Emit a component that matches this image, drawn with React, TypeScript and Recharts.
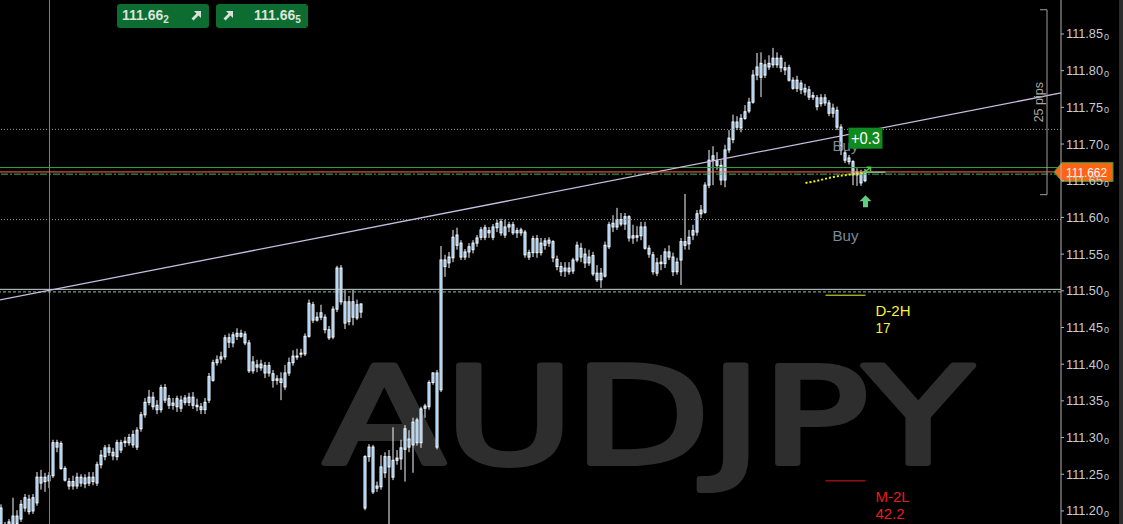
import React from 'react';
import { ComposedChart, Bar, Line, XAxis, YAxis, ReferenceLine, ReferenceDot } from 'recharts';

// ---- candle values (AUDJPY, price) ----
const openValues = [
111.204,111.181,111.171,111.182,111.193,111.189,111.204,111.216,111.200,111.211,
111.246,111.240,111.241,111.248,111.293,111.292,111.258,111.240,111.234,111.234,
111.246,111.237,111.238,111.246,111.238,111.263,111.274,111.286,111.280,111.274,
111.293,111.293,111.293,111.290,111.287,111.312,111.331,111.348,111.355,111.344,
111.338,111.368,111.353,111.344,111.342,111.351,111.348,111.348,111.355,111.344,
111.342,111.338,111.351,111.378,111.402,111.407,111.410,111.436,111.429,111.438,
111.442,111.441,111.429,111.391,111.399,111.395,111.398,111.388,111.387,111.378,
111.380,111.369,111.388,111.402,111.411,111.414,111.414,111.438,111.481,111.460,
111.464,111.464,111.447,111.437,111.475,111.531,111.485,111.458,111.485,111.463,
111.471,111.204,111.274,111.287,111.231,111.233,111.252,111.274,111.246,111.269,
111.271,111.284,111.298,111.290,111.324,111.293,111.340,111.342,111.375,111.388,
111.365,111.542,111.538,111.545,111.562,111.565,111.546,111.553,111.556,111.565,
111.573,111.586,111.579,111.573,111.586,111.594,111.576,111.587,111.590,111.579,
111.583,111.580,111.552,111.552,111.571,111.552,111.562,111.565,111.567,111.543,
111.533,111.527,111.531,111.527,111.542,111.558,111.550,111.538,111.548,111.524,
111.515,111.520,111.560,111.587,111.597,111.591,111.591,111.601,111.572,111.575,
111.575,111.587,111.558,111.549,111.524,111.537,111.537,111.553,111.546,111.526,
111.542,111.567,111.564,111.576,111.580,111.605,111.607,111.644,111.678,111.677,
111.671,111.651,111.692,111.706,111.730,111.722,111.735,111.745,111.757,111.794,
111.810,111.794,111.805,111.808,111.808,111.817,111.804,111.804,111.787,111.776,
111.783,111.776,111.774,111.764,111.763,111.755,111.763,111.756,111.742,111.746,
111.723,111.688,111.681,111.676,111.658,111.661,111.650
];
const highValues = [
111.209,111.185,111.189,111.218,111.201,111.215,111.223,111.222,111.223,111.253,
111.256,111.252,111.253,111.297,111.297,111.295,111.261,111.245,111.248,111.252,
111.250,111.250,111.253,111.253,111.267,111.283,111.290,111.291,111.286,111.297,
111.297,111.301,111.305,111.310,111.314,111.335,111.354,111.365,111.362,111.351,
111.372,111.373,111.358,111.354,111.357,111.357,111.358,111.361,111.362,111.353,
111.347,111.354,111.388,111.406,111.412,111.417,111.440,111.442,111.444,111.449,
111.447,111.445,111.433,111.411,111.406,111.406,111.403,111.403,111.392,111.385,
111.389,111.399,111.409,111.419,111.421,111.421,111.442,111.488,111.485,111.471,
111.481,111.468,111.452,111.479,111.534,111.535,111.501,111.493,111.501,111.488,
111.483,111.276,111.291,111.290,111.240,111.276,111.280,111.283,111.314,111.283,
111.297,111.317,111.310,111.327,111.327,111.342,111.346,111.378,111.389,111.392,
111.561,111.549,111.553,111.583,111.586,111.569,111.557,111.565,111.569,111.576,
111.587,111.590,111.587,111.591,111.597,111.598,111.597,111.594,111.594,111.586,
111.586,111.583,111.556,111.575,111.576,111.572,111.572,111.573,111.569,111.548,
111.539,111.539,111.539,111.545,111.567,111.565,111.558,111.556,111.553,111.535,
111.531,111.567,111.594,111.603,111.613,111.606,111.606,111.603,111.590,111.588,
111.594,111.594,111.562,111.553,111.545,111.549,111.558,111.562,111.552,111.545,
111.572,111.632,111.583,111.590,111.610,111.617,111.648,111.692,111.697,111.689,
111.678,111.699,111.719,111.740,111.738,111.741,111.753,111.763,111.801,111.824,
111.825,111.815,111.821,111.831,111.825,111.821,111.812,111.808,111.791,111.793,
111.787,111.782,111.779,111.771,111.767,111.768,111.768,111.760,111.755,111.751,
111.727,111.692,111.685,111.678,111.667,111.665,111.666
];
const lowValues = [
111.174,111.160,111.166,111.177,111.180,111.185,111.199,111.195,111.196,111.207,
111.229,111.226,111.231,111.245,111.280,111.256,111.240,111.229,111.229,111.230,
111.233,111.231,111.234,111.235,111.234,111.258,111.269,111.275,111.269,111.269,
111.279,111.287,111.289,111.286,111.283,111.308,111.327,111.344,111.338,111.332,
111.334,111.347,111.339,111.338,111.335,111.335,111.344,111.343,111.339,111.336,
111.332,111.332,111.347,111.376,111.398,111.401,111.406,111.422,111.423,111.433,
111.436,111.426,111.388,111.387,111.389,111.391,111.381,111.383,111.368,111.372,
111.351,111.365,111.384,111.398,111.406,111.409,111.411,111.436,111.456,111.458,
111.460,111.442,111.433,111.434,111.471,111.481,111.448,111.453,111.453,111.460,
111.463,111.201,111.267,111.223,111.226,111.229,111.245,111.182,111.242,111.263,
111.256,111.240,111.280,111.252,111.289,111.286,111.327,111.338,111.372,111.284,
111.362,111.519,111.531,111.539,111.556,111.542,111.542,111.545,111.551,111.560,
111.569,111.569,111.572,111.569,111.580,111.575,111.572,111.580,111.576,111.572,
111.575,111.545,111.542,111.546,111.545,111.548,111.556,111.560,111.539,111.528,
111.520,111.519,111.522,111.523,111.539,111.539,111.531,111.534,111.520,111.512,
111.504,111.518,111.557,111.580,111.583,111.588,111.583,111.567,111.564,111.567,
111.569,111.556,111.545,111.522,111.520,111.528,111.531,111.542,111.520,111.522,
111.508,111.556,111.556,111.569,111.575,111.599,111.605,111.640,111.644,111.665,
111.644,111.641,111.688,111.701,111.719,111.716,111.733,111.742,111.755,111.787,
111.764,111.790,111.801,111.804,111.804,111.798,111.794,111.785,111.774,111.771,
111.768,111.766,111.760,111.760,111.746,111.751,111.752,111.738,111.736,111.719,
111.685,111.674,111.672,111.644,111.643,111.643,111.648
];
const closeValues = [
111.182,111.167,111.185,111.193,111.183,111.209,111.218,111.199,111.218,111.246,
111.238,111.246,111.248,111.293,111.287,111.258,111.242,111.234,111.240,111.246,
111.238,111.245,111.246,111.240,111.263,111.276,111.286,111.280,111.275,111.293,
111.283,111.295,111.300,111.304,111.310,111.331,111.348,111.355,111.342,111.338,
111.368,111.351,111.344,111.347,111.353,111.340,111.354,111.355,111.344,111.342,
111.338,111.348,111.383,111.402,111.406,111.410,111.436,111.430,111.440,111.442,
111.438,111.429,111.391,111.403,111.396,111.400,111.388,111.398,111.378,111.380,
111.375,111.388,111.402,111.411,111.410,111.415,111.438,111.483,111.460,111.464,
111.470,111.447,111.436,111.475,111.531,111.485,111.456,111.485,111.464,111.481,
111.482,111.274,111.287,111.226,111.234,111.260,111.274,111.260,111.269,111.272,
111.286,111.312,111.287,111.321,111.293,111.339,111.343,111.375,111.388,111.287,
111.542,111.533,111.546,111.573,111.576,111.546,111.553,111.560,111.565,111.572,
111.583,111.573,111.582,111.587,111.592,111.579,111.587,111.590,111.579,111.582,
111.579,111.549,111.546,111.571,111.552,111.565,111.568,111.569,111.545,111.533,
111.526,111.531,111.526,111.542,111.562,111.546,111.538,111.546,111.523,111.515,
111.524,111.562,111.590,111.592,111.587,111.597,111.601,111.572,111.575,111.573,
111.587,111.558,111.550,111.526,111.538,111.539,111.553,111.546,111.526,111.539,
111.567,111.562,111.573,111.582,111.605,111.610,111.644,111.678,111.684,111.671,
111.651,111.692,111.708,111.730,111.723,111.735,111.744,111.757,111.794,111.805,
111.791,111.808,111.810,111.817,111.817,111.804,111.801,111.787,111.776,111.787,
111.774,111.771,111.764,111.766,111.751,111.763,111.756,111.742,111.749,111.723,
111.692,111.678,111.676,111.658,111.662,111.647,111.662
];

// yellow dotted average near the last bars
const maIndex = [201, 204, 207, 210, 213, 216];
const maValues = [111.647, 111.650, 111.654, 111.657, 111.659, 111.661];

const yTicks = [111.2, 111.25, 111.3, 111.35, 111.4, 111.45, 111.5, 111.55, 111.6, 111.65, 111.7, 111.75, 111.8, 111.85];
const priceDomain = [111.1822, 111.8963];
const indexDomain = [-0.375, 264.875];

// horizontal levels
const bidPrice = 111.662;
const askLine = 111.668;
const entryLine = 111.659;
const dotLevels = [111.72, 111.597];
const roundLevel = 111.502;
const roundLevelDash = 111.4985;
const sessionMarkIndex = 12;
const trendStart = 111.4875;
const trendEnd = 111.7696;
const d2hLevel = 111.494;
const m2lLevel = 111.241;
const levelFrom = 206;
const levelTo = 216;
const pipsTop = 111.883;
const pipsBottom = 111.631;
const pipsIndex = 261.375;
const pipsTickFrom = 259.625;

const buyMarks = [{ i: 211, p: 111.697 }, { i: 211, p: 111.575 }];
const profitMark = { i: 216, p: 111.708, text: '+0.3' };
const arrowMark = { i: 216, p: 111.622 };
const fillMark = { i: 216, p: 111.663 };

const rows: any[] = openValues.map((o, i) => ({
  i,
  open: o,
  high: highValues[i],
  low: lowValues[i],
  close: closeValues[i],
  range: [lowValues[i], highValues[i]],
  ma: null as number | null,
}));
maIndex.forEach((k, j) => { rows[k].ma = maValues[j]; });

const FONT = "'Liberation Sans', Arial, sans-serif";

const Candle = (props: any) => {
  const { x, y, width, height, payload } = props;
  if (x == null || y == null || !payload) return null;
  const top = Math.min(y, y + height);
  const h = Math.abs(height);
  const { open, close, high, low } = payload;
  const span = high - low || 1;
  const py = (v: number) => top + ((high - v) / span) * h;
  const cx = x + width / 2;
  const bTop = py(Math.max(open, close));
  const bBot = py(Math.min(open, close));
  return (
    <g>
      <line x1={cx} x2={cx} y1={top} y2={top + h} stroke="#f4f8ff" strokeWidth={1} />
      <rect x={cx - 1} y={bTop} width={2} height={Math.max(bBot - bTop, 1)} fill="#6aaef0" stroke="#ffffff" strokeWidth={1} />
    </g>
  );
};

const PriceTick = (props: any) => {
  const { x, y, payload } = props;
  const s = Number(payload.value).toFixed(2);
  return (
    <g>
      <text x={x} y={y + 4.5} fill="#c6ccd4" fontSize={13} fontFamily={FONT} textLength={37} lengthAdjust="spacingAndGlyphs">{s}</text>
      <text x={x + 38} y={y + 6} fill="#c6ccd4" fontSize={9} fontFamily={FONT}>0</text>
    </g>
  );
};

const priceTag = (p: any) => {
  const vb = p.viewBox || {};
  const R = (vb.x || 0) + (vb.width || 0);
  const cy = vb.y || 0;
  return (
    <g>
      <polygon points={`${R - 7},${cy} ${R + 1},${cy - 9.5} ${R + 52},${cy - 9.5} ${R + 52},${cy + 9.5} ${R + 1},${cy + 9.5}`} fill="#ff6414" stroke="#2f9a3f" strokeWidth={1} />
      <text x={R + 5} y={cy + 5} fill="#ffffff" fontSize={13.5} fontFamily={FONT} textLength={41} lengthAdjust="spacingAndGlyphs">{bidPrice.toFixed(3)}</text>
    </g>
  );
};

const levelLabel = (title: string, value: string, color: string, tl: number, vl: number) => (p: any) => {
  const vb = p.viewBox || {};
  const x = (vb.x || 0) + (vb.width || 0) + 10;
  const y = vb.y || 0;
  return (
    <g>
      <text x={x} y={y + 21} fill={color} fontSize={15} fontFamily={FONT} textLength={tl} lengthAdjust="spacingAndGlyphs">{title}</text>
      <text x={x} y={y + 38} fill={color} fontSize={15} fontFamily={FONT} textLength={vl} lengthAdjust="spacingAndGlyphs">{value}</text>
    </g>
  );
};

const pipsLabel = (p: any) => {
  const vb = p.viewBox || {};
  const x = (vb.x || 0) - 4;
  const cy = (vb.y || 0) + (vb.height || 0) / 2;
  return (
    <text x={x} y={cy} transform={`rotate(-90 ${x} ${cy})`} textAnchor="middle" fill="#a8a8a8" fontSize={12.5} fontFamily={FONT}>25 pips</text>
  );
};

const Arrow = () => (
  <svg width={11} height={11} viewBox="0 0 11 11" style={{ display: 'block' }}>
    <path d="M3 1 H10 V8 L7.5 5.5 L2.5 10.5 L0.5 8.5 L5.5 3.5 Z" fill="#d8e0d8" />
  </svg>
);

export default function App() {
  const btn: React.CSSProperties = {
    position: 'absolute', top: 4, width: 92, height: 24, background: '#0d6c30', borderRadius: 3,
    color: '#dbe3db', fontFamily: FONT, fontWeight: 'bold', fontSize: 14, boxSizing: 'border-box',
  };
  return (
    <div style={{ position: 'absolute', left: 0, top: 0, width: 1123, height: 524, background: '#000', overflow: 'hidden' }}>
      <svg width={1123} height={524} style={{ position: 'absolute', left: 0, top: 0 }}>
        <text x={324} y={463} fill="#2e2e2e" stroke="#2e2e2e" strokeWidth={6} strokeLinejoin="round" fontSize={134} fontFamily="'DejaVu Sans', sans-serif" textLength={648} lengthAdjust="spacingAndGlyphs">AUDJPY</text>
      </svg>
      <div style={{ position: 'absolute', left: 0, top: 0 }}>
        <ComposedChart width={1123} height={524} data={rows} margin={{ top: 0, right: 0, bottom: 0, left: 0 }}>
          <XAxis dataKey="i" type="number" domain={indexDomain} allowDataOverflow hide />
          <YAxis
            orientation="right"
            type="number"
            width={62}
            domain={priceDomain}
            allowDataOverflow
            ticks={yTicks}
            interval={0}
            tick={<PriceTick />}
            tickSize={3}
            tickMargin={2}
            axisLine={{ stroke: '#b4b4b4' }}
            tickLine={{ stroke: '#b4b4b4' }}
          />
          <ReferenceLine x={sessionMarkIndex} stroke="#7c7c7c" />
          {dotLevels.map((v) => (
            <ReferenceLine key={v} y={v} stroke="#9a9a9a" strokeDasharray="1 2" />
          ))}
          <ReferenceLine y={roundLevel} stroke="#cfd6de" />
          <ReferenceLine y={roundLevelDash} stroke="#8fc0a0" strokeDasharray="3 2" />
          <ReferenceLine y={askLine} stroke="#33a040" />
          <ReferenceLine y={entryLine} stroke="#3cb371" strokeDasharray="7 2 2 2" />
          <ReferenceLine
            segment={[{ x: indexDomain[0], y: trendStart }, { x: indexDomain[1], y: trendEnd }]}
            stroke="#cbbbe0"
            strokeWidth={1.3}
          />
          <ReferenceLine
            segment={[{ x: levelFrom, y: d2hLevel }, { x: levelTo, y: d2hLevel }]}
            stroke="#f0f030"
            label={levelLabel('D-2H', '17', '#f6f63c', 35, 15)}
          />
          <ReferenceLine
            segment={[{ x: levelFrom, y: m2lLevel }, { x: levelTo, y: m2lLevel }]}
            stroke="#e01818"
            label={levelLabel('M-2L', '42.2', '#e81c1c', 34, 29)}
          />
          <ReferenceLine
            segment={[{ x: pipsIndex, y: pipsTop }, { x: pipsIndex, y: pipsBottom }]}
            stroke="#a0a0a0"
            label={pipsLabel}
          />
          <ReferenceLine segment={[{ x: pipsTickFrom, y: pipsTop }, { x: pipsIndex, y: pipsTop }]} stroke="#a0a0a0" />
          <ReferenceLine segment={[{ x: pipsTickFrom, y: pipsBottom }, { x: pipsIndex, y: pipsBottom }]} stroke="#a0a0a0" />
          <Bar dataKey="range" barSize={3} shape={<Candle />} isAnimationActive={false} />
          <Line dataKey="ma" type="monotone" stroke="#f4f400" strokeWidth={2} strokeDasharray="2 2" dot={false} connectNulls isAnimationActive={false} />
          <ReferenceLine y={bidPrice} stroke="#ff6a4a" label={priceTag} />
          {buyMarks.map((m, k) => (
            <ReferenceDot
              key={k}
              x={m.i}
              y={m.p}
              shape={(p: any) => (
                <text x={p.cx} y={p.cy + 5} textAnchor="middle" fill="#7b899a" fontSize={15.5} fontFamily={FONT} textLength={26} lengthAdjust="spacingAndGlyphs">Buy</text>
              )}
            />
          ))}
          <ReferenceDot
            x={profitMark.i}
            y={profitMark.p}
            shape={(p: any) => (
              <g>
                <rect x={p.cx - 17} y={p.cy - 10.5} width={34} height={21} fill="#0f8a1e" />
                <text x={p.cx} y={p.cy + 5.5} textAnchor="middle" fill="#ffffff" fontSize={16} fontFamily={FONT} textLength={29} lengthAdjust="spacingAndGlyphs">{profitMark.text}</text>
              </g>
            )}
          />
          <ReferenceDot
            x={arrowMark.i}
            y={arrowMark.p}
            shape={(p: any) => (
              <polygon
                points={`${p.cx},${p.cy - 6} ${p.cx + 6},${p.cy} ${p.cx + 2.5},${p.cy} ${p.cx + 2.5},${p.cy + 6} ${p.cx - 2.5},${p.cy + 6} ${p.cx - 2.5},${p.cy} ${p.cx - 6},${p.cy}`}
                fill="#5fcf7f"
              />
            )}
          />
          <ReferenceDot
            x={fillMark.i}
            y={fillMark.p}
            shape={(p: any) => (
              <g>
                <line x1={p.cx - 3} x2={p.cx + 20} y1={p.cy + 1} y2={p.cy + 1} stroke="#8fb08f" strokeWidth={1.5} />
                <path d={`M${p.cx - 2} ${p.cy + 2} L${p.cx + 4} ${p.cy - 3} M${p.cx + 1} ${p.cy - 4} L${p.cx + 5} ${p.cy - 4} L${p.cx + 5} ${p.cy}`} stroke="#4ccc4c" strokeWidth={1.5} fill="none" />
              </g>
            )}
          />
        </ComposedChart>
      </div>
      <div style={{ ...btn, left: 117 }}>
        <span style={{ position: 'absolute', left: 5, top: 3 }}>111.66<span style={{ fontSize: 10, position: 'relative', top: 3 }}>2</span></span>
        <span style={{ position: 'absolute', left: 74, top: 6 }}><Arrow /></span>
      </div>
      <div style={{ ...btn, left: 216 }}>
        <span style={{ position: 'absolute', left: 7, top: 6 }}><Arrow /></span>
        <span style={{ position: 'absolute', left: 38, top: 3 }}>111.66<span style={{ fontSize: 10, position: 'relative', top: 3 }}>5</span></span>
      </div>
      <div style={{ position: 'absolute', left: 1119, top: 0, width: 4, height: 524, background: '#2c2c2c' }} />
    </div>
  );
}
